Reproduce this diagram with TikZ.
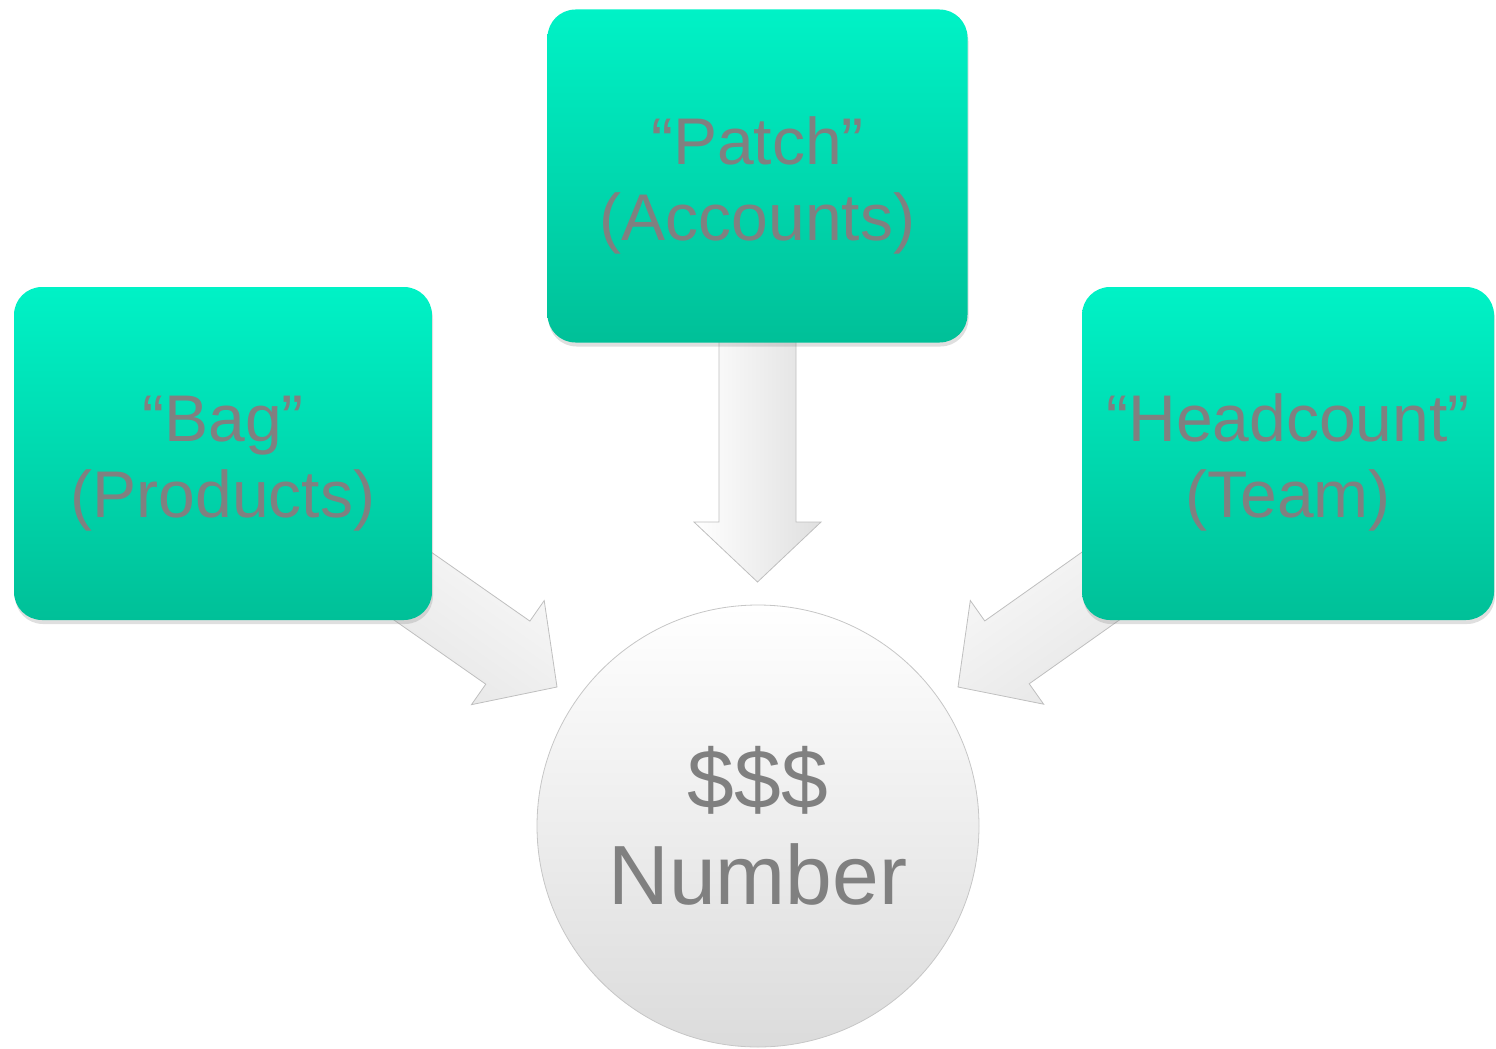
\documentclass[tikz,border=0pt]{standalone}
\usepackage{fontspec}
\setmainfont{Liberation Sans}
\usetikzlibrary{calc,shadows,backgrounds}
\definecolor{tealtop}{RGB}{0,242,198}
\definecolor{tealbot}{RGB}{0,192,152}
\definecolor{txtgray}{RGB}{128,128,128}
\newcommand{\pushdown}{\rule{0pt}{66pt}}
\tikzset{
  box/.style={rectangle, rounded corners=28pt, minimum width=418pt, minimum height=333pt,
    inner sep=0pt, top color=tealtop, bottom color=tealbot, draw=none, align=center,
    text=txtgray, font=\fontsize{66}{76}\selectfont,
    drop shadow={opacity=0.25, shadow xshift=1pt, shadow yshift=-4pt}},
  hub/.style={circle, minimum size=442pt, inner sep=0pt, top color=white, bottom color=gray!28,
    draw=gray!45, line width=0.8pt, align=center, text=txtgray,
    font=\fontsize{84}{96}\selectfont},
  blockarrow/.style={draw=gray!50, line width=0.8pt, left color=white, right color=gray!25,
    to path={
      ($(\tikztostart)!38.5pt!90:(\tikztotarget)$)
      -- ($(\tikztotarget)!60pt!(\tikztostart)!38.5pt!90:(\tikztotarget)$)
      -- ($(\tikztotarget)!60pt!(\tikztostart)!63.5pt!90:(\tikztotarget)$)
      -- (\tikztotarget)
      -- ($(\tikztotarget)!60pt!(\tikztostart)!63.5pt!-90:(\tikztotarget)$)
      -- ($(\tikztotarget)!60pt!(\tikztostart)!38.5pt!-90:(\tikztotarget)$)
      -- ($(\tikztostart)!38.5pt!-90:(\tikztotarget)$) -- cycle}}
}
\begin{document}
\begin{tikzpicture}[x=1pt,y=-1pt]
\useasboundingbox (0,0) rectangle (1496,1049);
\node[box] (bag) at (223,453.5) {\pushdown“Bag”\\(Products)};
\node[box, minimum width=420pt] (patch) at (757.5,176) {\pushdown“Patch”\\(Accounts)};
\node[box, minimum width=412pt] (head) at (1288,453.5) {\pushdown“Headcount”\\(Team)};
\node[hub] (num) at (758,826) {\$\$\$\\Number};
\coordinate (tipL) at (557,687);
\coordinate (tipM) at (757.5,582);
\coordinate (tipR) at (958,687);
\begin{scope}[on background layer]
  \path[blockarrow, shading angle=-35] (bag) to (tipL);
  \path[blockarrow] (patch) to (tipM);
  \path[blockarrow, shading angle=35] (head) to (tipR);
\end{scope}
\end{tikzpicture}
\end{document}
